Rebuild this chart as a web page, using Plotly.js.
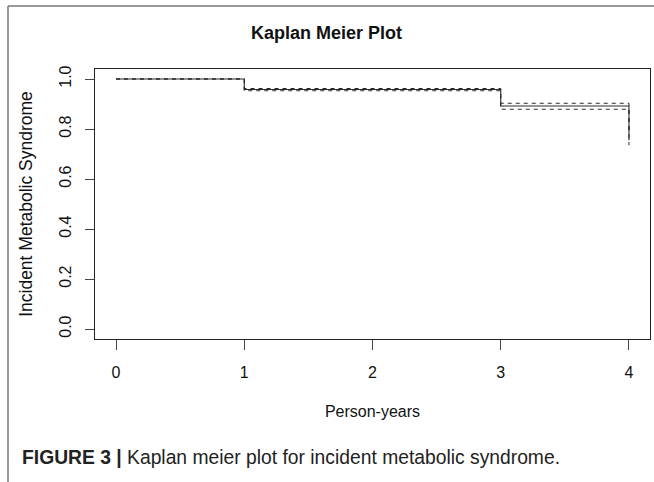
<!DOCTYPE html>
<html>
<head>
<meta charset="utf-8">
<script src="https://cdn.plot.ly/plotly-3.0.1.min.js"></script>
<style>
  html, body { margin: 0; padding: 0; background: #fff; }
  #chart { width: 654px; height: 482px; }
</style>
</head>
<body>
<div id="chart"></div>
<script>
// ---- data ----
const times = [0, 1, 3, 4];
const survival = [1.0, 0.958, 0.892, 0.755];
const upperCI = [1.0, 0.962, 0.903, 0.79];
const lowerCI = [1.0, 0.953, 0.879, 0.735];
const xTicks = [0, 1, 2, 3, 4];
const yTicks = [0, 0.2, 0.4, 0.6, 0.8, 1.0];
const yTickLabels = ["0.0", "0.2", "0.4", "0.6", "0.8", "1.0"];

const W = 654, H = 482;
const M = { l: 95, r: 4, t: 69, b: 143 };
const pw = W - M.l - M.r, ph = H - M.t - M.b;
const px = x => (x - M.l) / pw;
const py = y => (H - M.b - y) / ph;

const lineColor = "#2a2a2a";
const traces = [
  { x: times, y: upperCI, mode: "lines", line: { shape: "hv", color: lineColor, width: 1, dash: "4px,4px" }, hoverinfo: "skip" },
  { x: times, y: lowerCI, mode: "lines", line: { shape: "hv", color: lineColor, width: 1, dash: "4px,4px" }, hoverinfo: "skip" },
  { x: times, y: survival, mode: "lines", line: { shape: "hv", color: lineColor, width: 1.1 }, hoverinfo: "skip" }
];

const font = "Liberation Sans, Arial, Helvetica, sans-serif";
const layout = {
  width: W, height: H,
  margin: M,
  showlegend: false,
  paper_bgcolor: "#fff", plot_bgcolor: "#fff",
  font: { family: font, color: "#111", size: 17 },
  title: { text: "<b>Kaplan Meier Plot</b>", x: px(372), xanchor: "center", y: 1 - 33 / H, yanchor: "middle", font: { size: 18, family: font, color: "#111" } },
  xaxis: {
    range: [-0.164, 4.164], tickvals: xTicks, ticks: "outside", ticklen: 10, tickcolor: "#444", tickwidth: 1,
    showgrid: false, zeroline: false, showline: true, linecolor: "#222", linewidth: 1, mirror: true,
    tickfont: { size: 16, family: font, color: "#111" }, ticklabelstandoff: 9,
    title: { text: "Person-years", font: { size: 16, family: font, color: "#111" }, standoff: 25 }, fixedrange: true
  },
  yaxis: {
    range: [-0.04, 1.04], tickvals: yTicks, ticktext: yTickLabels, tickangle: -90, ticks: "outside", ticklen: 9, tickcolor: "#444", tickwidth: 1,
    showgrid: false, zeroline: false, showline: true, linecolor: "#222", linewidth: 1, mirror: true,
    tickfont: { size: 16, family: font, color: "#111" }, ticklabelstandoff: 8,
    title: { text: "Incident Metabolic Syndrome", font: { size: 17.5, family: font, color: "#111" }, standoff: 19 }, fixedrange: true
  },
  shapes: [
    { type: "line", xref: "paper", yref: "paper", x0: px(8), x1: px(654), y0: py(6), y1: py(6), line: { color: "#777", width: 1.5 } },
    { type: "line", xref: "paper", yref: "paper", x0: px(8), x1: px(8), y0: py(6), y1: py(482), line: { color: "#777", width: 1.5 } }
  ],
  annotations: [
    { xref: "paper", yref: "paper", x: px(20), y: py(457), xanchor: "left", yanchor: "middle", showarrow: false,
      text: "<b>FIGURE 3 |</b> Kaplan meier plot for incident metabolic syndrome.", font: { size: 19.3, family: font, color: "#222" } }
  ]
};

Plotly.newPlot("chart", traces, layout, { staticPlot: true, displayModeBar: false });
</script>
</body>
</html>
